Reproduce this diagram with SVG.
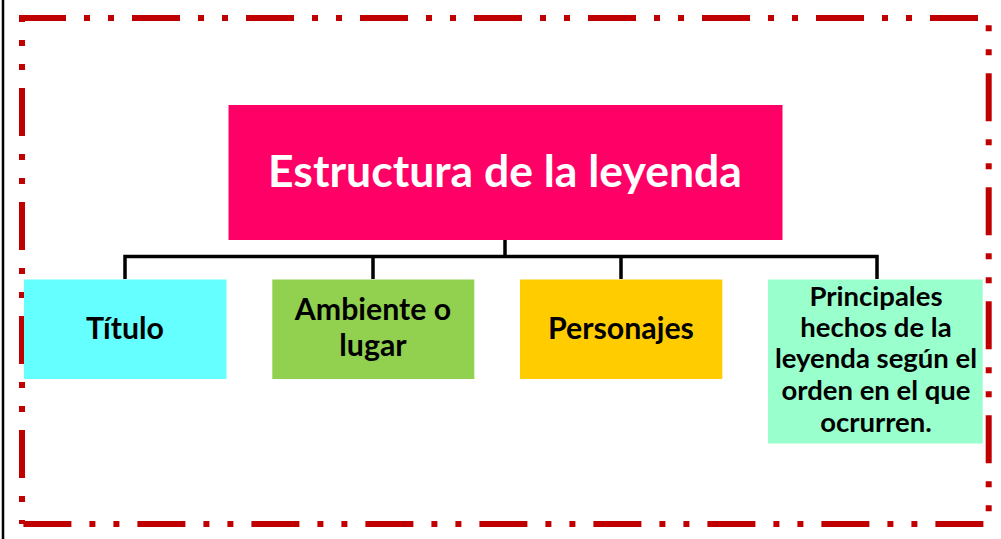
<svg xmlns="http://www.w3.org/2000/svg" width="1001" height="539" viewBox="0 0 1001 539">
  <style>
    .t { font-family: Lato, "Liberation Sans", sans-serif; font-weight: bold; text-anchor: middle; }
    .main { fill: #ffffff; font-size: 44.5px; }
    .lbl { fill: #000000; font-size: 30.3px; }
    .sm { fill: #000000; font-size: 27.5px; }
    .conn { stroke: #000000; stroke-width: 3.5; fill: none; }
  </style>
  <rect x="0" y="0" width="1001" height="539" fill="#ffffff"/>
  <line x1="3" y1="0" x2="3" y2="539" stroke="#000000" stroke-width="2.5"/>
  <path d="M22,524 V18 H988.7 V524 Z" fill="none" stroke="#C00000" stroke-width="6" stroke-dasharray="48 18 6 18 6 18" stroke-dashoffset="68"/>

  <g id="connectors">
    <line class="conn" x1="505" y1="240" x2="505" y2="256.5"/>
    <polyline class="conn" points="125,279 125,256.5 877,256.5 877,279"/>
    <line class="conn" x1="373" y1="256.5" x2="373" y2="279"/>
    <line class="conn" x1="621" y1="256.5" x2="621" y2="279"/>
  </g>

  <g id="root">
    <rect x="228.5" y="105" width="554" height="135" fill="#FF0066"/>
    <text class="t main" x="505" y="187">Estructura de la leyenda</text>
  </g>
  <g id="titulo">
    <rect x="24" y="279.5" width="202.5" height="99.5" fill="#66FFFF"/>
    <text class="t lbl" x="125" y="339">Título</text>
  </g>
  <g id="ambiente">
    <rect x="272.3" y="279.5" width="202" height="99.5" fill="#92D050"/>
    <text class="t lbl" x="373" y="320">Ambiente o</text>
    <text class="t lbl" x="373" y="356">lugar</text>
  </g>
  <g id="personajes">
    <rect x="520" y="279.5" width="202.3" height="99.5" fill="#FFCC00"/>
    <text class="t lbl" x="621" y="339">Personajes</text>
  </g>
  <g id="hechos">
    <rect x="768" y="279.5" width="214.7" height="164" fill="#99FFCC"/>
    <text class="t sm" x="876" y="306">Principales</text>
    <text class="t sm" x="876" y="337">hechos de la</text>
    <text class="t sm" x="876" y="368">leyenda según el</text>
    <text class="t sm" x="876" y="400">orden en el que</text>
    <text class="t sm" x="876" y="432">ocrurren.</text>
  </g>
</svg>
